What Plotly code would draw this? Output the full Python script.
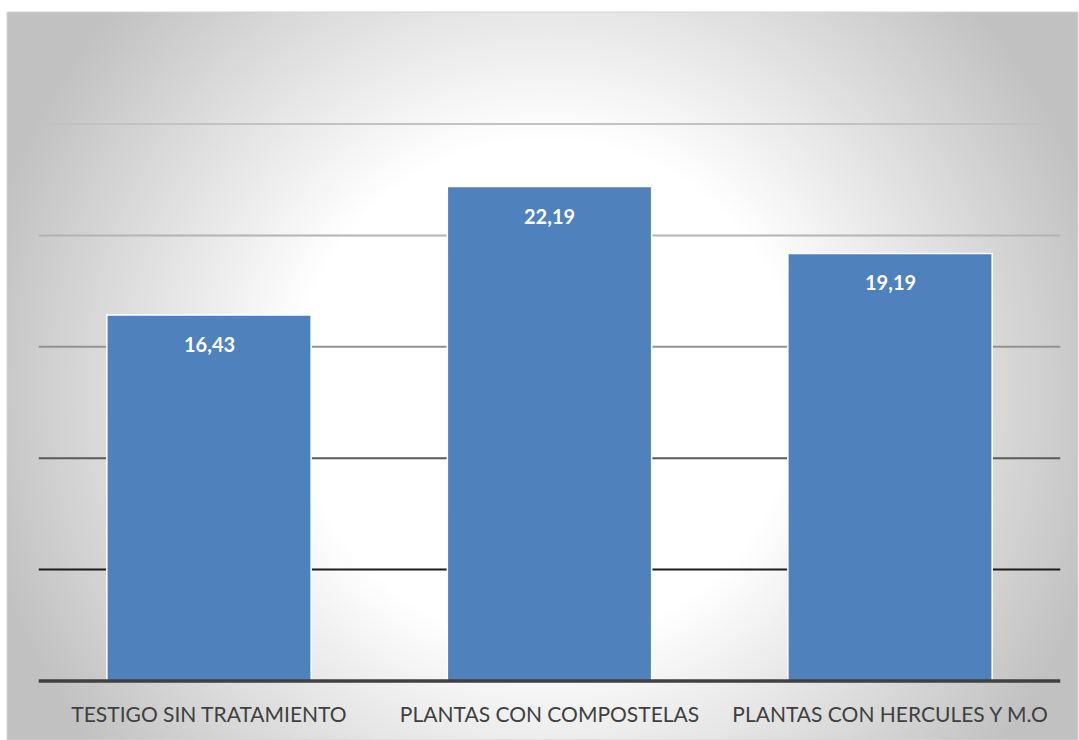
import numpy as np
import plotly.graph_objects as go

# Data
categories = ["TESTIGO SIN TRATAMIENTO", "PLANTAS CON COMPOSTELAS", "PLANTAS CON HERCULES Y M.O"]
values = [16.43, 22.19, 19.19]
labels = ["16,43", "22,19", "19,19"]
grid_values = [5, 10, 15, 20, 25]
grid_colors = ["#1c1c1c", "#5a5a5a", "#929292", "#b4b4b4", "#c2c2c2"]

W, H = 1079, 740
FONT = "Lato"

# Chart-area box in pixels
cx0, cx1, cy0, cy1 = 7, 1078, 12, 740
# Plot-area box in pixels (value axis padded slightly so edge lines are not clipped)
Y_LO, Y_HI = -0.3, 25.5
unit = (681 - 124) / 25.0
px0, px1 = 37, 1062
py_top = 681 - Y_HI * unit
py_bot = 681 - Y_LO * unit

# Radial grey background (white near centre, grey toward the edges)
gx = np.linspace(cx0, cx1, 220)
gy = np.linspace(cy0, cy1, 160)
XX, YY = np.meshgrid(gx, gy)
r = np.sqrt((XX - 545) ** 2 + (YY - 390) ** 2)
shade = 255 - np.minimum(62, 0.19 * np.maximum(0, r - 250))

fig = go.Figure()

fig.add_trace(go.Heatmap(
    x=gx, y=gy, z=shade, zmin=190, zmax=255, zsmooth="best",
    colorscale=[[0, "rgb(190,190,190)"], [1, "rgb(255,255,255)"]],
    showscale=False, hoverinfo="skip", xaxis="x", yaxis="y",
))

fig.add_trace(go.Bar(
    x=categories, y=values, xaxis="x2", yaxis="y2",
    marker=dict(color="#4F81BD", line=dict(color="white", width=1.5)),
    width=0.6, hoverinfo="skip",
))

shapes = []
for v, c in zip(grid_values, grid_colors):
    shapes.append(dict(type="line", xref="x2", yref="y2", x0=-0.5, x1=2.5, y0=v, y1=v,
                       line=dict(color=c, width=2), layer="below"))
# Category axis baseline
shapes.append(dict(type="line", xref="x2", yref="y2", x0=-0.5, x1=2.5, y0=0, y1=0,
                   line=dict(color="#404040", width=3.5), layer="above"))
# Chart-area border
shapes.append(dict(type="rect", xref="paper", yref="paper",
                   x0=cx0 / W, x1=cx1 / W, y0=0, y1=1 - cy0 / H,
                   line=dict(color="#d4d4d4", width=1), layer="above"))

annotations = []
for cat, v, t in zip(categories, values, labels):
    annotations.append(dict(x=cat, y=v, xref="x2", yref="y2", text=f"<b>{t}</b>",
                            showarrow=False, yanchor="top", yshift=-15,
                            font=dict(family=FONT, size=20, color="white")))

fig.update_layout(
    width=W, height=H,
    margin=dict(l=0, r=0, t=0, b=0),
    paper_bgcolor="white",
    plot_bgcolor="rgba(0,0,0,0)",
    showlegend=False,
    shapes=shapes,
    annotations=annotations,
    xaxis=dict(domain=[cx0 / W, cx1 / W], range=[cx0, cx1], visible=False, fixedrange=True),
    yaxis=dict(domain=[0, 1 - cy0 / H], range=[cy1, cy0], visible=False, fixedrange=True),
    xaxis2=dict(domain=[px0 / W, px1 / W], anchor="y2", showgrid=False, zeroline=False,
                showline=False, ticks="", ticklabelstandoff=12,
                tickfont=dict(family=FONT, size=21, color="#404040")),
    yaxis2=dict(domain=[1 - py_bot / H, 1 - py_top / H], anchor="x2", range=[Y_LO, Y_HI],
                showgrid=False, zeroline=False, showticklabels=False, ticks=""),
)

fig.write_html("out.html")
